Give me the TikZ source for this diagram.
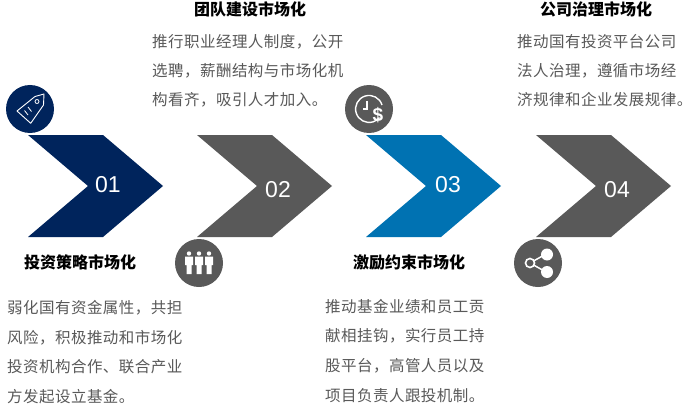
\documentclass[tikz,border=0pt]{standalone}
\usepackage{fontspec}
\setmainfont{Liberation Sans}
\newfontfamily\cjk{Noto Sans CJK SC}
\definecolor{navy}{HTML}{00245C}
\definecolor{greyc}{HTML}{595959}
\definecolor{bluec}{HTML}{0072B2}
\definecolor{bodyc}{HTML}{595959}
\tikzset{
  chev/.style={fill=#1,draw=none},
  num/.style={text=white,font=\fontsize{23}{25}\selectfont,inner sep=0pt},
  disc/.style={circle,fill=#1,draw=none,minimum size=48pt,inner sep=0pt},
  heading/.style={text=black,font=\fontsize{16}{18}\cjk\bfseries\selectfont,inner sep=0pt},
  bodyt/.style={text=bodyc,anchor=west,inner sep=0pt,font=\fontsize{15.5}{18}\cjk\selectfont},
  ico/.style={draw=white,line width=#1},
  ico/.default=1pt
}
\newcommand{\bl}[1]{\addfontfeature{LetterSpace=3}#1}
\begin{document}
\begin{tikzpicture}[x=1pt,y=-1pt]
\useasboundingbox (0,0) rectangle (700,409);
\fill[white] (0,0) rectangle (700,409);
% chevrons
\foreach \x/\c in {28/navy,197/greyc,366/bluec,536/greyc}{
  \fill[chev=\c] (\x,135) -- ++(75,0) -- ++(60,51) -- ++(-60,51) -- ++(-75,0) -- ++(60,-51) -- cycle;
}
\node[num] (n1) at (108,185) {01};
\node[num] (n2) at (278,190) {02};
\node[num] (n3) at (448,185) {03};
\node[num] (n4) at (617,190) {04};
% discs
\node[disc=navy] (c1) at (30,109) {};
\node[disc=greyc] (c2) at (199,263) {};
\node[disc=greyc] (c3) at (369,109) {};
\node[disc=greyc] (c4) at (538,263) {};
% tag icon
\begin{scope}[shift={(c1.center)}]
\draw[ico=0.9pt,line join=round] (-13,2) -- (5,-12.5) -- (14,-15) -- (13.5,-4) -- (0.7,14.3) -- cycle;
\draw[ico=0.8pt] (7,-7.5) circle (2);
\draw[ico=0.8pt] (-5.5,1.5) -- (-2,6);
\draw[ico=0.8pt] (-2,-2) -- (1.5,2.5);
\end{scope}
% clock-dollar icon
\begin{scope}[shift={(c3.center)}]
\draw[white,line width=1.4pt] (13,-4) arc (-17:-320:13.5);
\draw[white,line width=1.4pt] (-2,-8) -- (-2,0) -- (-6,0);
\node[text=white,inner sep=0pt,font=\bfseries\fontsize{19}{20}\selectfont] (dollar) at (9,6) {\$};
\end{scope}
% people icon
\begin{scope}[shift={(c2.center)}]
\foreach \d in {-10,0,10}{
  \fill[white] (\d,-9.5) circle (2.2);
  \fill[white] (\d-4,-6.5) -- (\d+4,-6.5) -- (\d+4,2) -- (\d+2.5,2) -- (\d+2.5,11) -- (\d-2.5,11) -- (\d-2.5,2) -- (\d-4,2) -- cycle;
}
\end{scope}
% share icon
\begin{scope}[shift={(c4.center)}]
\draw[white,line width=1.5pt] (-8,0) -- (8,-9);
\draw[white,line width=1.5pt] (-8,0) -- (8,9);
\fill[white] (9,-8.5) circle (6);
\fill[white] (9,9) circle (6);
\draw[white,line width=1.6pt,fill=greyc] (-8,0) circle (4.5);
\end{scope}
% headings
\node[heading] (h1) at (80,262) {投资策略市场化};
\node[heading] (h2) at (250,9) {团队建设市场化};
\node[heading] (h3) at (409,262) {激励约束市场化};
\node[heading] (h4) at (596,9) {公司治理市场化};
% bodies
\node[bodyt] (a1) at (7,308) {\bl{弱化国有资金属性，共担}};
\node[bodyt] (a2) at (7,338) {\bl{风险，积极推动和市场化}};
\node[bodyt] (a3) at (7,367) {\bl{投资机构合作、联合产业}};
\node[bodyt] (a4) at (7,397) {\bl{方发起设立基金。}};
\node[bodyt] (b1) at (152,42) {\bl{推行职业经理人制度，公开}};
\node[bodyt] (b2) at (152,71) {\bl{选聘，薪酬结构与市场化机}};
\node[bodyt] (b3) at (152,100) {\bl{构看齐，吸引人才加入。}};
\node[bodyt] (d1) at (325,307) {\bl{推动基金业绩和员工贡}};
\node[bodyt] (d2) at (325,336) {\bl{献相挂钩，实行员工持}};
\node[bodyt] (d3) at (325,366) {\bl{股平台，高管人员以及}};
\node[bodyt] (d4) at (325,396) {\bl{项目负责人跟投机制。}};
\node[bodyt] (e1) at (517,42) {\bl{推动国有投资平台公司}};
\node[bodyt] (e2) at (517,71) {\bl{法人治理，遵循市场经}};
\node[bodyt] (e3) at (517,100) {\bl{济规律和企业发展规律。}};
\end{tikzpicture}
\end{document}
